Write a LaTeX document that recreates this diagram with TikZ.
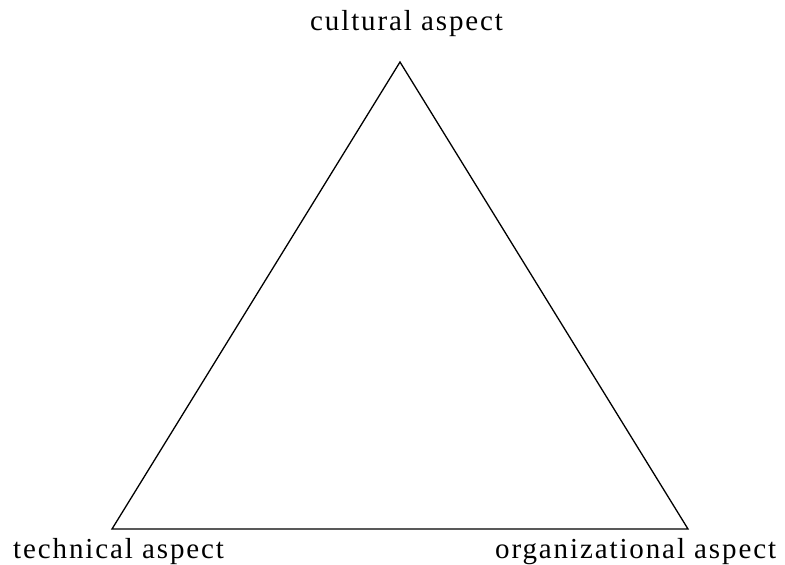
\documentclass[tikz,border=0pt]{standalone}
\usepackage{fontspec}
\setmainfont{Liberation Serif}[LetterSpace=6.5]
\begin{document}
\begin{tikzpicture}[x=1pt,y=-1pt,
  lbl/.style={anchor=base west,inner sep=0pt,font=\fontsize{29}{32}\selectfont},
  edge/.style={draw=black,line width=1.3pt,line join=miter}]
\useasboundingbox (0,0) rectangle (785,565);
\coordinate (top) at (400,62);
\coordinate (bl) at (112,529);
\coordinate (br) at (688,529);
\draw[edge] (top) -- (bl) -- (br) -- cycle;
\node[lbl] (cult) at (310,30) {cultural aspect};
\node[lbl] (tech) at (13,558) {technical aspect};
\node[lbl] (org) at (495,558) {organizational aspect};
\end{tikzpicture}
\end{document}
